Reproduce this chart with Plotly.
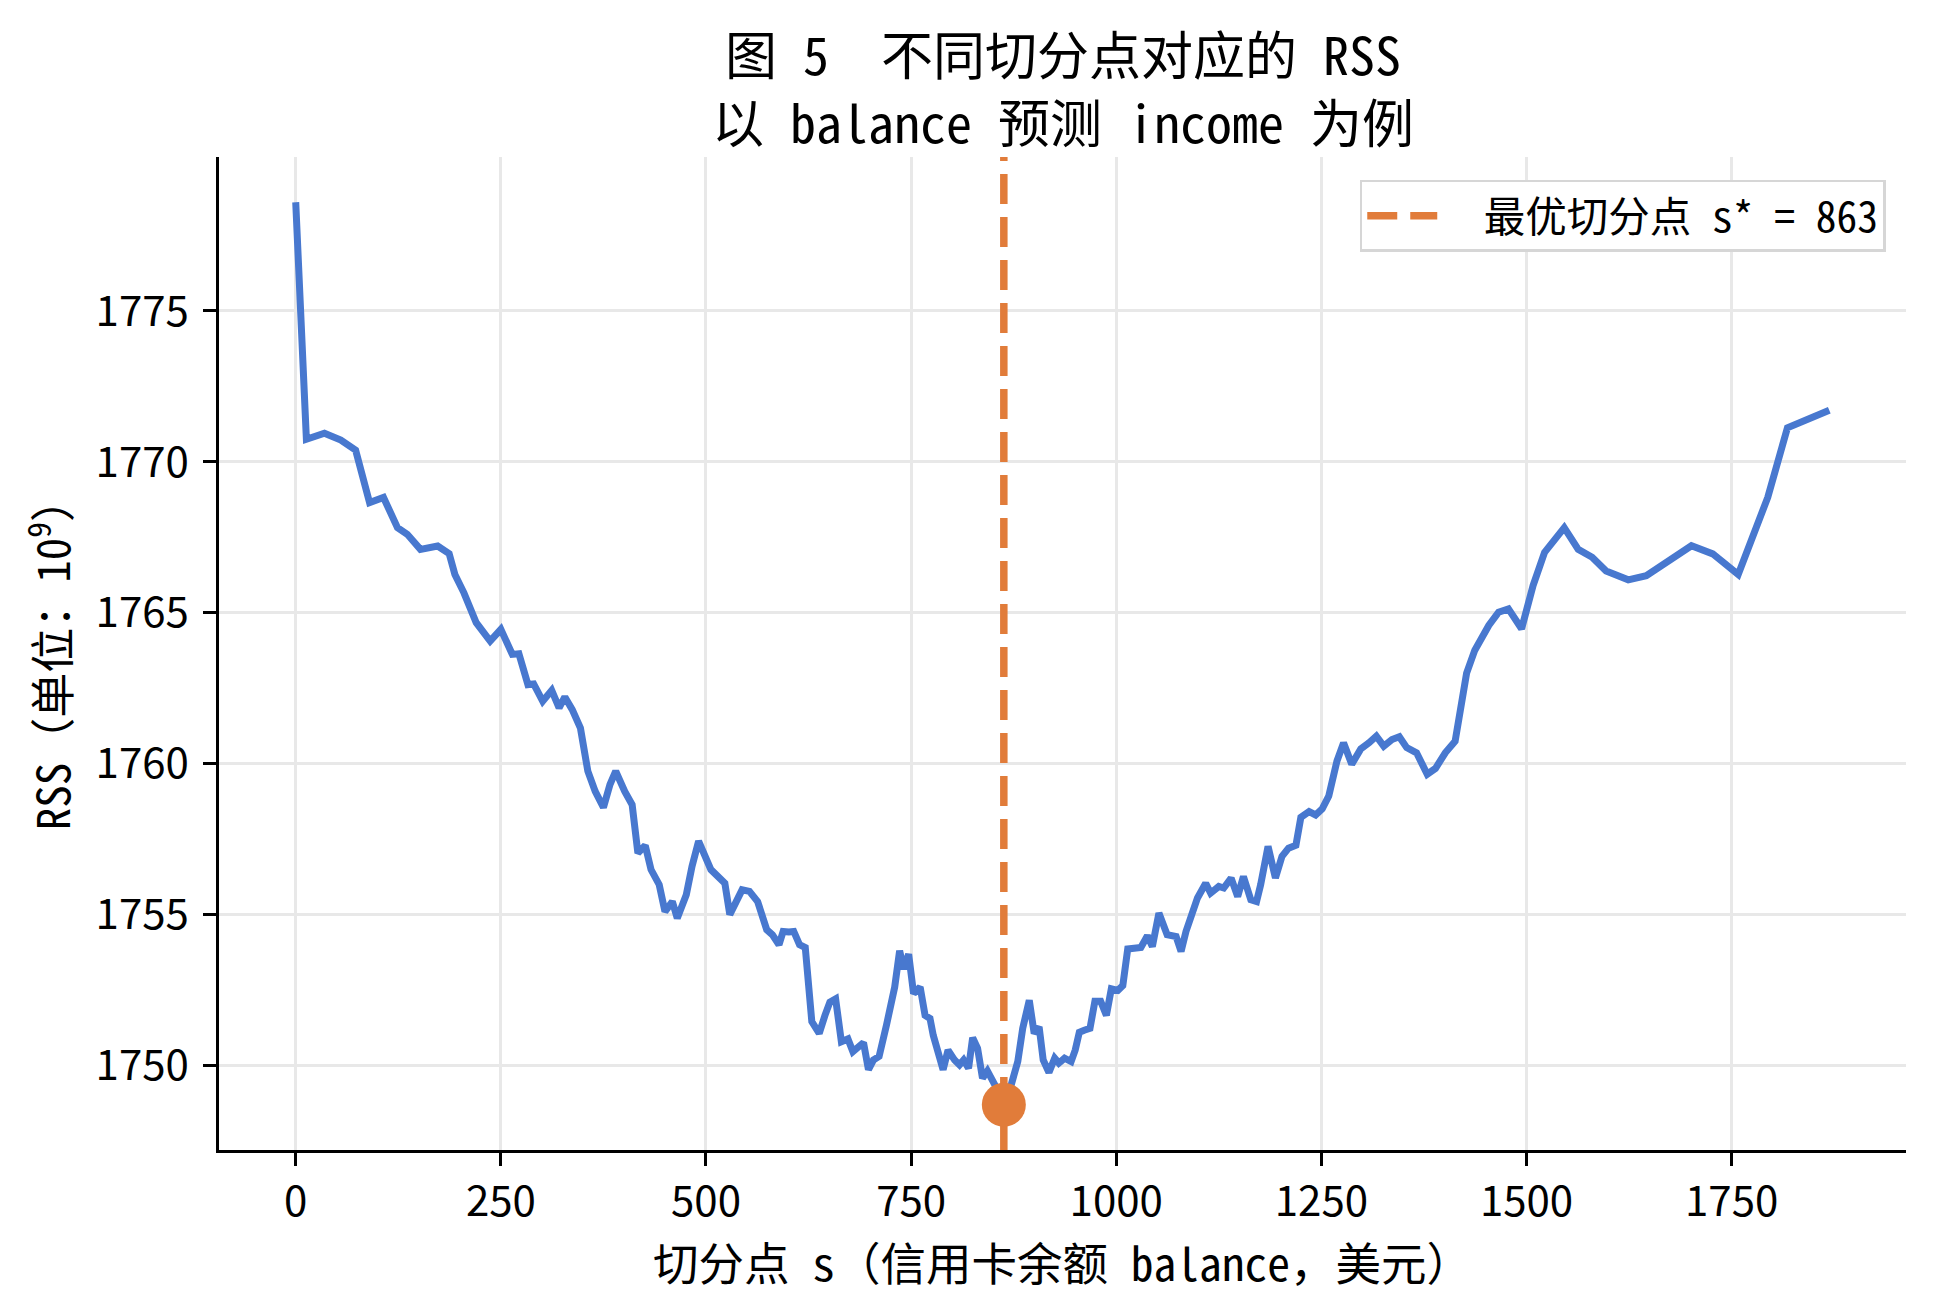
import plotly.graph_objects as go

# 切分点 s 与对应的 RSS（单位：10^9）
split_points = [
    0, 13, 35, 55, 73, 90, 107, 124, 136, 152, 173, 187,
    194, 205, 220, 237, 250, 264, 272, 283, 290, 301, 312, 321, 328, 337, 347,
    356, 365, 375, 383, 390, 401, 410, 417, 426, 433, 443, 450, 459, 465, 476,
    483, 491, 506, 512, 523, 529, 538, 544, 553, 563, 574, 581, 589, 594, 601,
    607, 614, 621, 629, 638, 645, 651, 658, 665, 673, 679, 692, 698, 704, 711,
    720, 730, 736, 741, 747, 753, 761, 767, 773, 777, 789, 795, 803, 809, 814,
    820, 825, 831, 837, 843, 852, 863, 872, 880, 886, 894, 900, 906, 911, 918,
    925, 930, 937, 945, 950, 955, 961, 968, 974, 981, 988, 994, 1002, 1008,
    1014, 1022, 1030, 1038, 1044, 1052, 1062, 1073, 1079, 1085, 1099, 1109,
    1115, 1125, 1131, 1140, 1148, 1155, 1164, 1171, 1176, 1185, 1194, 1202,
    1210, 1219, 1225, 1235, 1243, 1251, 1259, 1269, 1277, 1287, 1298, 1308,
    1317, 1326, 1336, 1345, 1354, 1366, 1379, 1389, 1401, 1413, 1427, 1437,
    1454, 1466, 1478, 1494, 1508, 1522, 1546, 1563, 1580, 1597, 1624, 1646,
    1668, 1701, 1727, 1758, 1794, 1818, 1869,
]
rss = [
    1778.6, 1770.75, 1770.95, 1770.72, 1770.39, 1768.65, 1768.82, 1767.82,
    1767.6, 1767.1, 1767.21, 1766.96,
    1766.27, 1765.66, 1764.67, 1764.06, 1764.45, 1763.62, 1763.64, 1762.62,
    1762.64, 1762.07, 1762.43, 1761.85, 1762.21, 1761.79, 1761.18,
    1759.75, 1759.08, 1758.55, 1759.31, 1759.75, 1759.08, 1758.64, 1757.04,
    1757.29, 1756.49, 1755.99, 1755.1, 1755.43, 1754.88, 1755.66,
    1756.6, 1757.43, 1756.49, 1756.32, 1756.04, 1755.0, 1755.43, 1755.82,
    1755.77, 1755.43, 1754.5, 1754.33, 1754.0, 1754.44, 1754.42,
    1754.44, 1754.0, 1753.91, 1751.45, 1751.06, 1751.66, 1752.1, 1752.21,
    1750.79, 1750.88, 1750.46, 1750.76, 1749.86, 1750.18, 1750.3,
    1751.34, 1752.6, 1753.8, 1753.2, 1753.69, 1752.38, 1752.6, 1751.66,
    1751.56, 1751.0, 1749.86, 1750.51, 1750.18, 1750.02, 1750.18,
    1749.91, 1750.92, 1750.57, 1749.58, 1749.82, 1749.36, 1748.7, 1749.36,
    1750.13, 1751.23, 1752.16, 1751.06, 1751.28, 1750.18, 1749.77,
    1750.24, 1750.08, 1750.24, 1750.13, 1750.51, 1751.1, 1751.17, 1751.23,
    1752.13, 1752.13, 1751.66, 1752.54, 1752.49, 1752.65,
    1753.86, 1753.86, 1753.91, 1754.3, 1753.94, 1755.05, 1754.33, 1754.27,
    1753.78, 1754.44, 1755.55, 1756.04,
    1755.71, 1755.93, 1755.88, 1756.21, 1755.6, 1756.26, 1755.49, 1755.43,
    1755.99, 1757.26, 1756.21, 1756.93,
    1757.2, 1757.3, 1758.22, 1758.41, 1758.3, 1758.5, 1758.93, 1760.09,
    1760.69, 1759.98, 1760.49, 1760.69,
    1760.91, 1760.58, 1760.8, 1760.89, 1760.53, 1760.36, 1759.65, 1759.84,
    1760.36, 1760.74, 1763.0, 1763.76,
    1764.58, 1765.02, 1765.13, 1764.47, 1765.9, 1767.0, 1767.82, 1767.1,
    1766.84, 1766.38, 1766.09, 1766.23,
    1766.62, 1767.22, 1766.95, 1766.27, 1768.82, 1771.13, 1771.71,
]
best_s = 863
best_rss = 1748.7

x_range = [-93.5, 1962.5]
y_range = [1747.2, 1780.1]
x_ticks = [0, 250, 500, 750, 1000, 1250, 1500, 1750]
y_ticks = [1750, 1755, 1760, 1765, 1770, 1775]

title_1 = "图 5  不同切分点对应的 RSS"
title_2 = "以 balance 预测 income 为例"

blue = "#4878CF"
orange = "#E17C3A"
cjk = "Noto Sans Mono CJK SC, Noto Sans CJK SC, sans-serif"
num_font = "Noto Sans CJK SC, sans-serif"

fig = go.Figure()
fig.add_trace(go.Scatter(x=split_points, y=rss, mode="lines",
                         line=dict(color=blue, width=7), showlegend=False))
# 最优切分点竖线
fig.add_trace(go.Scatter(x=[best_s, best_s], y=y_range, mode="lines",
                         line=dict(color=orange, width=7.5, dash="30px,13px"),
                         name=f"\u00a0\u00a0最优切分点 s* = {best_s}"))
fig.add_trace(go.Scatter(x=[best_s], y=[best_rss], mode="markers",
                         marker=dict(color=orange, size=44), showlegend=False))

# 标题（两行）
fig.add_annotation(text=title_1 + "<br>" + title_2, xref="paper", yref="paper",
                   x=0.5, y=1.0715, xanchor="center", yanchor="middle",
                   showarrow=False, align="center",
                   font=dict(family=cjk, size=52, color="black"))

fig.update_layout(
    width=1936, height=1312,
    margin=dict(l=211, r=38, t=149, b=170),
    plot_bgcolor="white", paper_bgcolor="white",
    legend=dict(x=0.988, y=0.977, xanchor="right", yanchor="top",
                bgcolor="white", bordercolor="#d6d6d6", borderwidth=2.5,
                font=dict(family=cjk, size=41.5, color="black"), itemwidth=70),
)
fig.update_xaxes(
    range=x_range, tickvals=x_ticks, showgrid=True, gridcolor="#e8e8e8", gridwidth=2.5,
    showline=True, linecolor="black", linewidth=2.5, zeroline=False,
    ticks="outside", ticklen=13, tickwidth=2.5, tickcolor="black",
    tickfont=dict(family=num_font, size=42, color="black"),
    title=dict(text="切分点 s（信用卡余额 balance，美元）", standoff=14,
               font=dict(family=cjk, size=45.5, color="black")),
)
fig.update_yaxes(
    range=y_range, tickvals=y_ticks, showgrid=True, gridcolor="#e8e8e8", gridwidth=2.5,
    showline=True, linecolor="black", linewidth=2.5, zeroline=False,
    ticks="outside", ticklen=13, tickwidth=2.5, tickcolor="black",
    ticklabelstandoff=6,
    tickfont=dict(family=num_font, size=42, color="black"),
    title=dict(text="RSS（单位：10<sup>9</sup>）", standoff=11,
               font=dict(family=cjk, size=45, color="black")),
)

fig.write_html("out.html")
